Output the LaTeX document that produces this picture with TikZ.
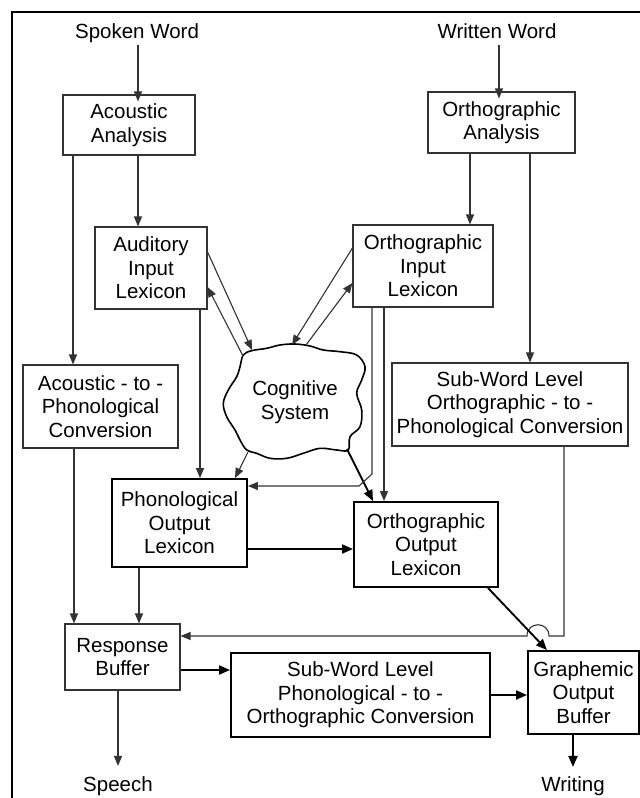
\documentclass[tikz,border=0pt]{standalone}
\usepackage{fontspec}
\setmainfont{Liberation Sans}
\usetikzlibrary{arrows.meta}
\begin{document}
\begin{tikzpicture}[x=1pt,y=-1pt,
  font=\fontsize{20.5}{23.5}\selectfont,
  thinbox/.style={draw=black!80, line width=1.1pt, align=center, inner sep=0pt, fill=white},
  thickbox/.style={draw=black, line width=1.9pt, align=center, inner sep=0pt, fill=white},
  lbl/.style={inner sep=0pt, anchor=base},
  arr/.style={draw=black!80, line width=1.1pt, -{Triangle[length=10pt,width=8pt]}},
  tarr/.style={draw=black, line width=1.9pt, -{Triangle[length=11pt,width=9pt]}},
]
\useasboundingbox (0,0) rectangle (640,798);
\clip (0,0) rectangle (640,798);
\fill[white] (0,0) rectangle (640,798);
% outer frame
\draw[line width=1.8pt] (12,900) -- (12,12) -- (700,12);

% inputs
\node[lbl] (spoken) at (137,38) {Spoken Word};
\node[lbl] (written) at (497,38) {Written Word};

% boxes
\node[thinbox, minimum width=132pt, minimum height=60pt] (acan) at (129,125) {Acoustic\\Analysis};
\node[thinbox, minimum width=147pt, minimum height=61pt] (orthan) at (501.5,122.5) {Orthographic\\Analysis};
\node[thinbox, minimum width=112pt, minimum height=82pt] (aud) at (151,268) {Auditory\\Input\\Lexicon};
\node[thinbox, minimum width=140pt, minimum height=82pt] (orthin) at (423,266) {Orthographic\\Input\\Lexicon};
\node[thinbox, minimum width=155pt, minimum height=83pt] (acph) at (100.5,406.5) {Acoustic - to -\\Phonological\\Conversion};
\node[thinbox, minimum width=236pt, minimum height=83pt] (swop) at (510,404.5) {Sub-Word Level\\Orthographic - to -\\Phonological Conversion};
\node[thickbox, minimum width=135pt, minimum height=88pt] (phout) at (179.5,523) {Phonological\\Output\\Lexicon};
\node[thickbox, minimum width=144pt, minimum height=85pt] (orthout) at (426,544.5) {Orthographic\\Output\\Lexicon};
\node[thinbox, minimum width=115pt, minimum height=66pt] (resp) at (122.5,657) {Response\\Buffer};
\node[thickbox, minimum width=259pt, minimum height=84pt] (swpo) at (360.5,695) {Sub-Word Level\\Phonological - to -\\Orthographic Conversion};
\node[thickbox, minimum width=111pt, minimum height=83pt] (graph) at (583.5,692.5) {Graphemic\\Output\\Buffer};

% outputs
\node[lbl] (speech) at (118,791) {Speech};
\node[lbl] (writing) at (573,791) {Writing};

% cognitive system cloud
\draw[line width=1.6pt, fill=white] plot[smooth cycle, tension=0.6] coordinates {
  (243.3,355) (251.7,350.7) (266.7,348.3) (280,345) (295,344) (310,346)
  (323.3,350) (340,351.7) (356.7,355) (365,366.7) (361.7,380) (356.7,393.3)
  (361.7,410) (360,426.7) (350,436.7) (348.3,450) (336.7,450) (320,448.3)
  (303.3,453.3) (286.7,458.3) (270,458.3) (256.7,453.3) (246.7,450) (240,440)
  (235,430) (226.7,416.7) (223.3,403.3) (228.3,390) (236.7,376.7) (240,366.7)};
\node[align=center, inner sep=0pt] (cog) at (295,402) {Cognitive\\System};
\coordinate (cogA) at (252,350);
\coordinate (cogB) at (243,356);
\coordinate (cogC) at (292,345);
\coordinate (cogD) at (306,345);
\coordinate (cogE) at (248,452);
\coordinate (cogF) at (347,449);

% bend and hop points
\coordinate (bendA) at (372,474);
\coordinate (bendB) at (359,486);
\coordinate (turnC) at (564,636);
\coordinate (hopR) at (549,636);
\coordinate (hopL) at (527,636);

% connectors
\draw[arr] ([xshift=1pt,yshift=-7pt]spoken.base) -- ([xshift=1pt,yshift=-7pt]spoken.base |- acan.north);
\draw[arr] ([xshift=2pt,yshift=-7pt]written.base) -- ([xshift=2pt,yshift=-7pt]written.base |- orthan.north);
\draw[arr] ([xshift=9pt]acan.south) -- ([xshift=9pt]acan.south |- aud.north);
\draw[arr] ([xshift=-56pt]acan.south) -- ([xshift=-56pt]acan.south |- acph.north);
\draw[arr] ([xshift=-31.5pt]orthan.south) -- ([xshift=-31.5pt]orthan.south |- orthin.north);
\draw[arr] ([xshift=28.5pt]orthan.south) -- ([xshift=28.5pt]orthan.south |- swop.north);

\draw[arr] ([yshift=16pt]aud.east) -- (cogA);
\draw[arr] (cogB) -- ([yshift=-19pt]aud.east);
\draw[arr] ([yshift=18pt]orthin.west) -- (cogC);
\draw[arr] (cogD) -- ([yshift=-17pt]orthin.west);

\draw[arr] ([xshift=49pt]aud.south) -- ([xshift=49pt]aud.south |- phout.north);
\draw[arr] (cogE) -- ([xshift=55.5pt]phout.north);
\draw[tarr] (cogF) -- ([xshift=-53pt]orthout.north);
\draw[arr] ([xshift=-39pt]orthin.south) -- ([xshift=-39pt]orthin.south |- orthout.north);
\draw[arr] ([xshift=-51pt]orthin.south) -- (bendA) -- (bendB) -- (bendB -| phout.east);

\draw[arr] ([xshift=-26.5pt]acph.south) -- ([xshift=-26.5pt]acph.south |- resp.north);
\draw[arr] ([xshift=-40.5pt]phout.south) -- ([xshift=-40.5pt]phout.south |- resp.north);
\draw[tarr] ([yshift=-26pt]phout.east) -- ([yshift=-26pt]phout.east -| orthout.west);

\draw[arr] ([xshift=54pt]swop.south) -- (turnC) -- (hopR)
  .. controls +(0,-15) and +(0,-15) .. (hopL) -- (resp.east |- hopR);
\draw[tarr] ([xshift=62pt]orthout.south) -- ([xshift=-36.5pt]graph.north);

\draw[tarr] ([yshift=-13pt]resp.east) -- ([yshift=-13pt]resp.east -| swpo.west);
\draw[tarr] (swpo.east) -- (swpo.east -| graph.west);

\draw[arr] ([xshift=-4.5pt]resp.south) -- ([yshift=10pt]speech.north);
\draw[tarr] ([xshift=-10.5pt]graph.south) -- ([yshift=9pt]writing.north);
\end{tikzpicture}
\end{document}
